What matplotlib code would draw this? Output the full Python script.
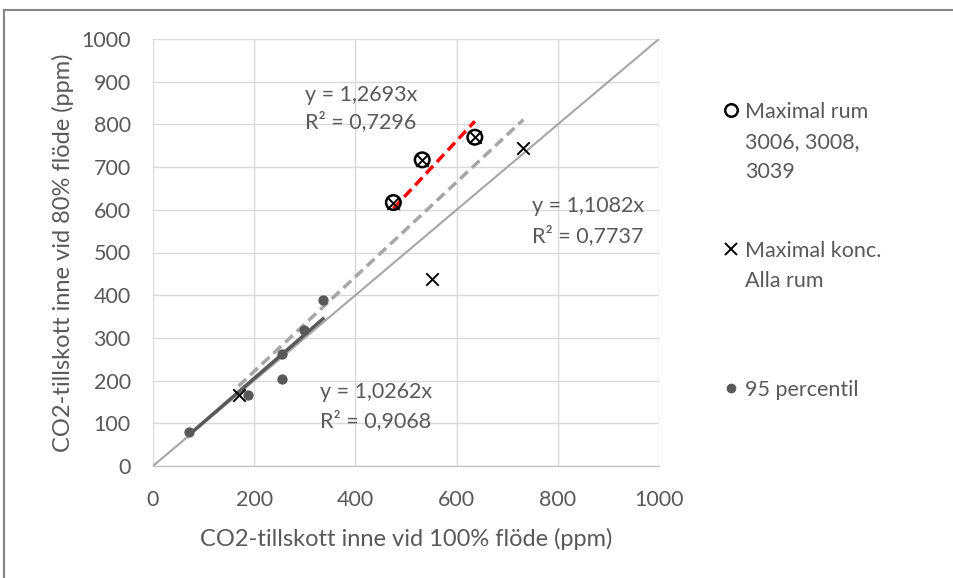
import numpy as np
import matplotlib
matplotlib.use("Agg")
import matplotlib.pyplot as plt
from matplotlib.lines import Line2D

plt.rcParams['font.family'] = ['Lato', 'DejaVu Sans']

# Maximal rum 3006, 3008, 3039
rum_x = [475, 532, 636]
rum_y = [617, 717, 770]

# Maximal konc. Alla rum
konc_x = [169, 475, 532, 636, 551, 732]
konc_y = [166, 617, 717, 770, 438, 745]

# 95 percentil
p95_x = [72, 187, 254, 254, 298, 336]
p95_y = [80, 166, 204, 262, 318, 389]

# Trendline slopes (through origin)
k_rum, r2_rum = 1.2693, 0.7296
k_konc, r2_konc = 1.1082, 0.7737
k_p95, r2_p95 = 1.0262, 0.9068

ticks = [0, 200, 400, 600, 800, 1000]
yticks = list(range(0, 1001, 100))

txt = '#595959'
fs = 15.5

fig = plt.figure(figsize=(9.54, 5.78), dpi=100)
ax = fig.add_axes([153/954, 1-466/578, (659-153)/954, (466-39)/578])

ax.set_xlim(0, 1000)
ax.set_ylim(0, 1000)
ax.set_xticks(ticks)
ax.set_yticks(yticks)
ax.grid(True, color='#d9d9d9', linewidth=1.0)
ax.set_axisbelow(True)
for s in ax.spines.values():
    s.set_visible(False)
ax.spines['bottom'].set_visible(True)
ax.spines['bottom'].set_color('#bfbfbf')
ax.tick_params(length=0, labelsize=fs, colors=txt)
ax.tick_params(axis='x', pad=17)
ax.tick_params(axis='y', pad=16)

# y = x reference
ax.plot([0, 1000], [0, 1000], color='#a6a6a6', lw=1.5, zorder=2)

# trendlines
def trend(xs, k, **kw):
    x0, x1 = min(xs), max(xs)
    ax.plot([x0, x1], [k*x0, k*x1], **kw)

trend(p95_x, k_p95, color='#595959', lw=2.5, zorder=3)
trend(konc_x, k_konc, color='#a6a6a6', lw=2.5, ls=(0, (3, 1.6)), zorder=3)
trend(rum_x, k_rum, color='#ff0000', lw=2.5, ls=(0, (3, 1.6)), zorder=3)

ax.scatter(p95_x, p95_y, s=55, color='#595959', zorder=4, linewidths=0)
ax.scatter(konc_x, konc_y, s=80, marker='x', color='black', linewidths=1.4, zorder=5)
ax.scatter(rum_x, rum_y, s=110, marker='o', facecolors='none', edgecolors='black', linewidths=1.8, zorder=6)

def eq(x, y1, y2, k, r2):
    ax.text(x, y1, f"y = {k:.4f}x".replace('.', ','), color=txt, fontsize=fs, va='center_baseline')
    ax.text(x, y2, f"R² = {r2:.4f}".replace('.', ','), color=txt, fontsize=fs, va='center_baseline')

eq(300, 873, 812, k_rum, r2_rum)
eq(749, 613, 545, k_konc, r2_konc)
eq(330, 178, 110, k_p95, r2_p95)

ax.set_xlabel('CO2-tillskott inne vid 100% flöde (ppm)', fontsize=17, color=txt, labelpad=13)
ax.set_ylabel('CO2-tillskott inne vid 80% flöde (ppm)', fontsize=17, color=txt, labelpad=5)

# legend, drawn in figure pixels
def fx(px):
    return px / 954
def fy(py):
    return 1 - py / 578

def legend_text(lines, y0):
    for i, line in enumerate(lines):
        fig.text(fx(745), fy(y0 + 30*i), line, fontsize=fs, color=txt,
                 va='center_baseline', ha='left')

fig.add_artist(Line2D([fx(731)], [fy(110)], marker='o', markersize=9, markerfacecolor='none',
                      markeredgecolor='black', markeredgewidth=1.8, transform=fig.transFigure))
legend_text(['Maximal rum', '3006, 3008,', '3039'], 110)
fig.add_artist(Line2D([fx(731)], [fy(249)], marker='x', markersize=8, markeredgecolor='black',
                      markeredgewidth=1.4, transform=fig.transFigure))
legend_text(['Maximal konc.', 'Alla rum'], 249)
fig.add_artist(Line2D([fx(731)], [fy(388)], marker='o', markersize=7, markerfacecolor='#595959',
                      markeredgewidth=0, transform=fig.transFigure))
legend_text(['95 percentil'], 388)

# outer frame
fig.add_artist(Line2D([fx(4), fx(4)], [fy(9.5), 0], color='#868686', lw=1.5, transform=fig.transFigure))
fig.add_artist(Line2D([fx(4), 1], [fy(9.5), fy(9.5)], color='#868686', lw=1.5, transform=fig.transFigure))

fig.savefig('out.png', dpi=100)
